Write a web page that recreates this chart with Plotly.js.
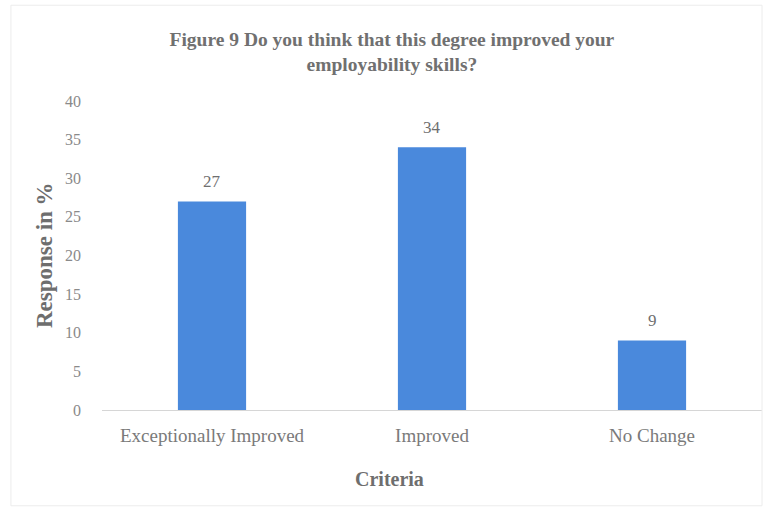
<!DOCTYPE html>
<html>
<head>
<meta charset="utf-8">
<script src="https://cdn.plot.ly/plotly-3.0.1.min.js"></script>
<style>html,body{margin:0;padding:0;background:#fff;}#chart{width:773px;height:507px;}</style>
</head>
<body>
<div id="chart"></div>
<script>
const categories = ["Exceptionally Improved", "Improved", "No Change"];
const responses = [27, 34, 9];
const yTicks = [0, 5, 10, 15, 20, 25, 30, 35, 40];

const serif = "Liberation Serif, Times New Roman, serif";

const trace = {
  type: "bar",
  x: categories,
  y: responses,
  marker: {color: "#4a89dc"},
  width: 0.31,
  hoverinfo: "none"
};

const valueLabels = categories.map((c, i) => ({
  x: c, y: responses[i], xref: "x", yref: "y",
  text: String(responses[i]), showarrow: false,
  yanchor: "bottom", yshift: 8,
  font: {family: serif, size: 17, color: "#6f6f6f"}
}));

const layout = {
  width: 773,
  height: 507,
  paper_bgcolor: "#ffffff",
  plot_bgcolor: "#ffffff",
  margin: {l: 102, r: 11, t: 101, b: 97},
  showlegend: false,
  title: {
    text: "<b>Figure 9 Do you think that this degree improved your<br>employability skills?</b>",
    font: {family: serif, size: 19.5, color: "#707070"},
    x: 0.507, xanchor: "center",
    yref: "container", y: 0.91, yanchor: "top"
  },
  xaxis: {
    showgrid: false,
    showline: true,
    linecolor: "#d6d6d6",
    linewidth: 1,
    ticks: "",
    ticklabelstandoff: 8,
    tickfont: {family: serif, size: 19, color: "#7a7a7a"}
  },
  yaxis: {
    range: [0, 40],
    tickvals: yTicks,
    showgrid: false,
    zeroline: false,
    showline: false,
    ticks: "",
    ticklabelstandoff: 20,
    tickfont: {family: serif, size: 16, color: "#8a8a8a"}
  },
  annotations: valueLabels.concat([
    {text: "<b>Criteria</b>", xref: "paper", yref: "paper", x: 0.435, y: -0.18,
     xanchor: "center", yanchor: "top", showarrow: false,
     font: {family: serif, size: 20, color: "#6e6e6e"}},
    {text: "<b>Response in %</b>", xref: "paper", yref: "paper", x: -0.087, y: 0.5,
     xanchor: "center", yanchor: "middle", textangle: -90, showarrow: false,
     font: {family: serif, size: 23, color: "#6e6e6e"}}
  ]),
  shapes: [
    {type: "rect", xref: "paper", yref: "paper", x0: -0.138, x1: 1.0, y0: -0.31, y1: 1.31,
     line: {color: "#ececec", width: 1}, fillcolor: "rgba(0,0,0,0)"}
  ]
};

Plotly.newPlot("chart", [trace], layout, {displayModeBar: false, staticPlot: true});
</script>
</body>
</html>
